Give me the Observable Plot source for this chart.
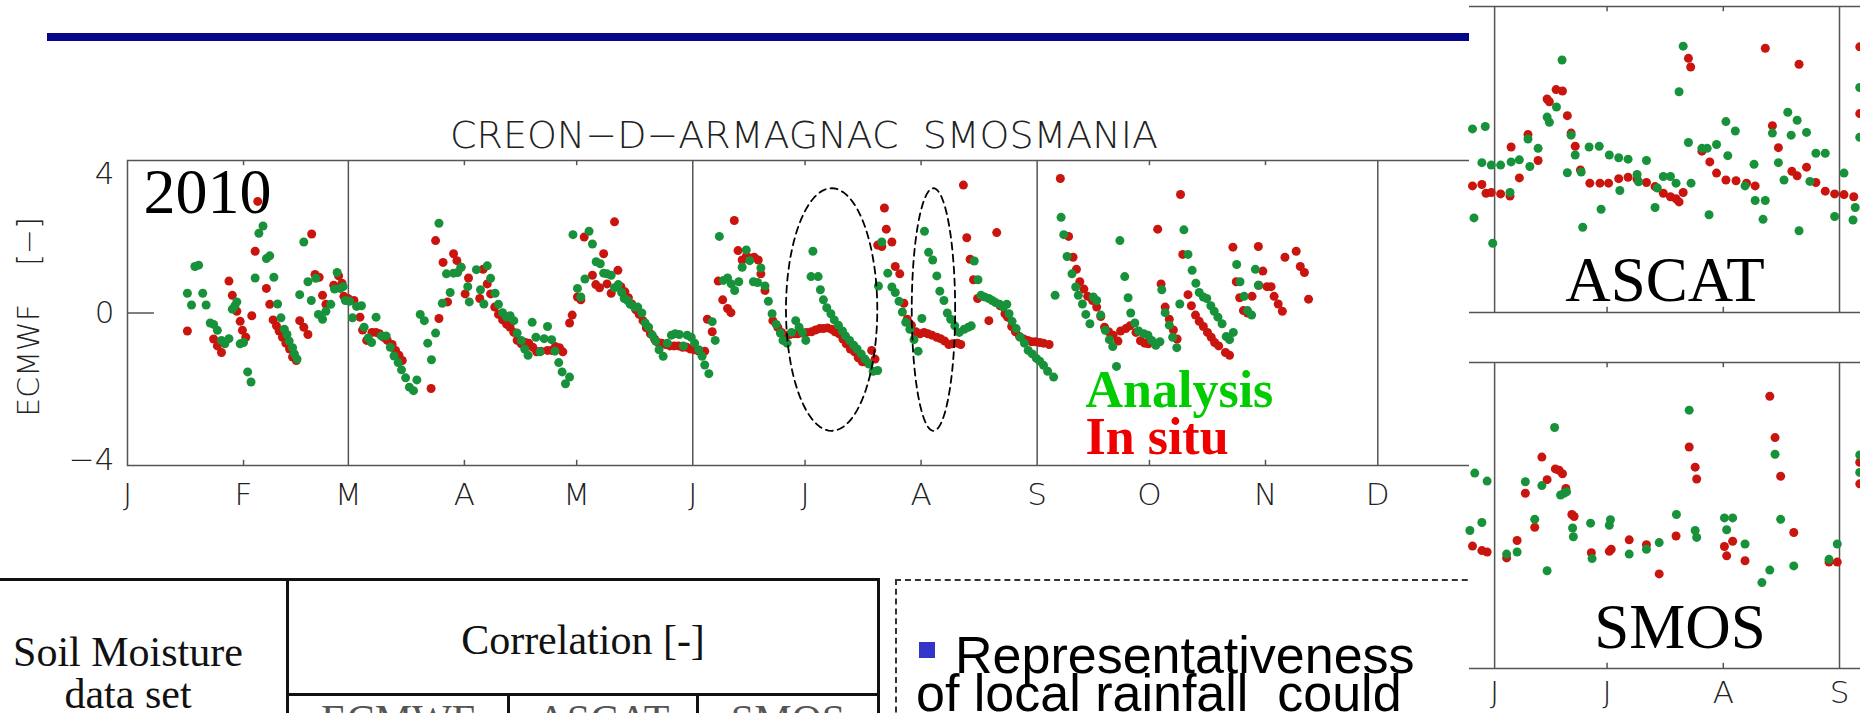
<!DOCTYPE html>
<html><head><meta charset="utf-8">
<script src="https://cdn.jsdelivr.net/npm/d3@7"></script>
<script src="https://cdn.jsdelivr.net/npm/@observablehq/plot@0.6"></script>
<style>
html,body{margin:0;padding:0;background:#fff;}
body{width:1860px;height:713px;overflow:hidden;position:relative;}
.abs{position:absolute;}
#bar{left:47px;top:33px;width:1422px;height:8px;background:#06068a;}
.ln{position:absolute;background:#111;}
.serif{font-family:"Liberation Serif","Times New Roman",serif;color:#111;white-space:nowrap;}
#note{left:895px;top:579px;width:700px;height:200px;border-top:2px dashed #333;border-left:2px dashed #333;}
#right{left:1469px;top:0;width:391px;height:713px;background:#fff;}
</style></head><body>
<div id="bar" class="abs"></div>
<div id="main" class="abs" style="left:0;top:0"></div>

<div id="table">
  <div class="ln" style="left:0;top:578px;width:880px;height:3px"></div>
  <div class="ln" style="left:286px;top:578px;width:3px;height:135px"></div>
  <div class="ln" style="left:877px;top:578px;width:3px;height:135px"></div>
  <div class="ln" style="left:286px;top:693px;width:594px;height:3px"></div>
  <div class="ln" style="left:507px;top:693px;width:3px;height:20px"></div>
  <div class="ln" style="left:696px;top:693px;width:3px;height:20px"></div>
  <div class="abs serif" style="left:0;width:256px;top:631px;font-size:42px;line-height:42px;text-align:center">Soil Moisture<br>data set</div>
  <div class="abs serif" style="left:289px;width:588px;top:618px;font-size:42px;line-height:44px;text-align:center">Correlation [-]</div>
  <div class="abs serif" style="left:289px;width:218px;top:698px;font-size:42px;line-height:44px;text-align:center;color:#555">ECMWF</div>
  <div class="abs serif" style="left:510px;width:186px;top:698px;font-size:42px;line-height:44px;text-align:center;color:#555">ASCAT</div>
  <div class="abs serif" style="left:699px;width:178px;top:698px;font-size:42px;line-height:44px;text-align:center;color:#555">SMOS</div>
</div>

<div id="note" class="abs">
  <div class="abs" style="left:22px;top:61px;width:16px;height:16px;background:#3434c8"></div>
  <div class="abs" style="left:58px;top:48px;font-family:'Liberation Sans',Arial,sans-serif;font-size:52px;line-height:52px;color:#000;white-space:nowrap">Representativeness</div>
  <div class="abs" style="left:19px;top:86px;font-family:'Liberation Sans',Arial,sans-serif;font-size:52px;line-height:52px;color:#000;white-space:pre">of local rainfall  could</div>
</div>

<div id="right" class="abs"><div id="ascat" class="abs" style="left:0;top:0"></div><div id="smos" class="abs" style="left:0;top:340px"></div></div>

<script>
// ---------- data (day of year 2010, standardized value) ----------
const analysis = [
[16.0,0.57],[17.1,0.23],[18.0,1.34],[19.0,1.38],[20.1,0.57],[21.0,0.23],[22.1,-0.29],[23.0,-0.33],[24.0,-0.50],[25.1,-0.79],[26.0,-0.89],[27.1,-0.74],[28.0,0.11],[28.7,0.21],[29.2,0.32],[30.1,-0.89],[31.0,-0.85],[32.1,-1.70],[33.0,-1.99],[34.1,1.01],[35.1,2.30],[36.2,2.51],[37.1,1.57],[38.0,1.65],[39.1,1.03],[40.1,0.26],[41.0,-0.14],[41.9,-0.47],[42.6,-0.62],[43.2,-0.81],[44.1,-1.00],[44.6,-1.18],[45.3,-1.33],[46.0,0.53],[47.1,2.05],[48.2,0.90],[49.1,0.36],[50.3,1.00],[51.0,-0.04],[52.1,-0.18],[53.0,0.05],[54.3,0.25],[55.3,0.69],[56.0,1.17],[56.8,0.71],[57.6,0.76],[58.2,0.36],[59.3,0.34],[60.1,-0.14],[61.2,0.19],[62.5,0.21],[63.2,-0.41],[64.3,-0.72],[65.2,-0.85],[66.4,-0.12],[67.8,-0.66],[69.1,-0.66],[70.2,-0.99],[71.2,-1.24],[72.3,-1.43],[73.2,-1.64],[74.3,-1.87],[75.3,-2.14],[76.4,-2.24],[77.3,-1.93],[78.2,-0.04],[79.3,-0.22],[80.2,-0.87],[81.2,-1.35],[82.3,-0.58],[83.2,2.59],[84.1,0.28],[85.2,1.13],[86.2,0.59],[87.1,1.15],[88.2,1.17],[89.1,1.32],
[90.9,0.76],[91.3,0.32],[93.2,1.25],[94.3,0.67],[95.2,0.26],[96.1,1.36],[97.0,1.00],[98.2,0.57],[99.1,0.25],[100.2,0.01],[101.3,-0.12],[102.2,-0.08],[103.2,-0.22],[104.1,-0.58],[105.2,-0.79],[106.1,-1.04],[107.0,-1.22],[108.1,-0.27],[109.1,-0.70],[110.2,-1.12],[111.3,-0.74],[112.2,-0.39],[113.3,-0.77],[114.2,-1.10],[115.2,-1.43],[116.1,-1.70],[117.0,-2.04],[118.1,-1.85],[119.0,2.26],[120.2,0.71],[121.1,0.46],[122.2,0.98],[123.3,2.36],[124.2,1.99],[125.2,1.48],[126.3,1.42],[127.2,1.15],[128.1,1.13],[129.2,1.09],[130.1,0.73],[131.1,0.82],[132.0,0.59],[132.7,0.42],[133.6,0.36],[134.3,0.25],[135.4,0.17],[136.3,0.17],[137.4,0.00],[138.3,-0.29],[139.2,-0.41],[140.2,-0.64],[141.1,-0.81],[142.0,-1.06],[143.1,-1.25],[144.2,-0.87],[145.3,-0.64],[146.3,-0.60],[147.4,-0.62],[148.5,-0.95],[149.5,-0.64],[150.6,-0.70],[151.5,-0.87],[152.6,-1.06],[153.5,-1.25],[154.2,-1.50],[155.3,-1.75],[156.2,-0.25],[157.0,-0.79],[158.1,2.21],[159.2,0.94],[160.3,1.01],[161.3,0.84],[162.2,0.65],[163.3,0.90],[164.2,1.32],[165.3,1.82],[166.2,1.51],[167.2,0.90],[168.3,0.88],[169.2,1.30],[170.3,0.78],[171.2,0.34],[172.2,-0.02],[173.3,-0.33],[174.4,-0.58],[175.1,-0.79],[176.2,-0.87],[177.4,-0.56],[178.5,-0.22],[179.4,-0.41],[180.3,-0.56],[181.2,-0.79],
[182.6,1.05],[183.1,1.78],[184.5,1.05],[185.1,0.67],[185.9,0.38],[186.8,0.15],[187.9,-0.02],[188.8,-0.20],[189.9,-0.35],[191.0,-0.52],[191.8,-0.66],[192.9,-0.79],[194.0,-0.93],[194.9,-1.04],[196.0,-1.18],[197.0,-1.33],[198.1,-1.47],[199.2,-1.68],[200.4,-1.66],[200.6,0.78],[201.5,2.05],[203.1,1.15],[204.2,0.75],[205.1,0.59],[206.1,0.34],[207.0,0.03],[207.9,-0.27],[209.0,-0.47],[210.1,-0.77],[211.2,-1.10],[212.2,-0.16],[212.9,2.36],[214.0,1.75],[215.1,1.53],[216.2,1.07],[217.0,0.63],[218.1,0.36],[219.0,0.00],[219.9,-0.18],[221.0,-0.37],[222.2,-0.56],[223.5,-0.47],[224.6,-0.41],[225.4,-0.37],[226.2,1.50],[227.2,0.96],[228.0,0.51],[229.0,0.46],[230.1,0.42],[231.0,0.36],[231.9,0.30],[233.0,0.25],[234.0,0.17],[234.9,0.25],[235.5,-0.02],[236.3,-0.24],[237.4,-0.45],[238.5,-0.70],[239.6,-0.87],[240.6,-1.08],[241.7,-1.18],[242.8,-1.31],[243.7,-1.39],[244.7,-1.51],[245.8,-1.68],[247.4,-1.85],[247.8,0.51],[249.4,2.76],[250.1,2.26],[251.0,1.63],[252.3,1.13],[253.3,0.75],[254.0,0.51],[255.1,0.26],[256.0,-0.04],[257.1,-0.31],[258.0,0.46],[258.9,0.36],[260.0,-0.06],[261.2,-0.50],[262.3,-0.77],[263.2,-0.97],[264.2,-1.54],[265.1,2.09],[266.4,1.05],[267.3,0.44],[268.0,0.00],[269.1,-0.29],[270.1,-0.52],
[271.5,-0.60],[272.6,-0.64],[273.6,-0.79],[274.7,-0.93],[275.8,-0.83],[276.3,0.67],[277.2,0.01],[278.3,-0.35],[279.2,-0.70],[280.3,-1.00],[281.1,0.26],[282.2,2.40],[283.3,1.69],[284.4,1.23],[285.4,0.86],[286.3,0.59],[287.4,0.46],[288.3,0.42],[289.4,0.21],[290.3,0.05],[291.3,-0.12],[292.4,-0.31],[293.5,-0.68],[294.4,-0.77],[295.4,-0.56],[296.3,1.40],[297.2,0.90],[298.3,0.48],[299.2,0.07],[300.3,-0.06],[301.3,1.26],[302.1,0.80]
];
const insitu = [
[16.0,-0.52],[23.0,-0.75],[24.0,-0.95],[25.1,-1.14],[27.1,0.92],[28.0,0.51],[29.2,0.05],[30.1,-0.24],[30.7,-0.50],[31.6,-0.70],[33.2,-0.08],[34.1,1.78],[34.8,3.22],[37.1,0.71],[38.0,0.25],[38.9,-0.20],[39.8,-0.37],[40.5,-0.52],[41.4,-0.70],[42.3,-0.87],[43.3,-1.04],[44.1,-1.27],[45.1,-1.37],[46.0,-0.22],[47.1,-0.41],[48.2,-0.62],[49.2,2.28],[50.1,1.11],[51.2,1.03],[52.1,0.51],[53.0,0.25],[55.1,0.80],[56.4,1.07],[57.3,0.86],[57.8,0.48],[58.9,0.42],[60.5,0.36],[62.1,-0.12],[62.8,-0.49],[63.9,-0.79],[65.3,-0.56],[66.4,-0.56],[67.3,-0.60],[68.4,-0.70],[69.4,-0.79],[70.7,-0.91],[71.6,-1.08],[72.5,-1.22],[73.4,-1.37],[81.1,-2.18],[82.3,2.09],[83.2,-0.16],[84.3,1.46],[85.5,0.32],[87.1,1.71],[88.0,1.51],[89.1,1.32],
[90.2,0.55],[91.1,1.01],[94.1,0.42],[95.0,1.26],[96.1,0.84],[97.0,0.55],[98.1,0.17],[99.1,-0.04],[100.2,-0.20],[101.3,-0.33],[102.2,-0.41],[103.2,-0.56],[104.1,-0.79],[105.2,-0.89],[106.3,-0.85],[107.2,-0.87],[108.3,-0.99],[109.3,-1.12],[110.4,-1.10],[112.2,-1.08],[113.3,-1.08],[114.3,-0.97],[115.4,-1.00],[116.3,-1.12],[118.1,-0.29],[118.8,-0.06],[120.2,0.46],[121.1,0.38],[122.0,2.19],[124.2,1.09],[125.1,0.82],[126.1,0.73],[127.2,1.71],[128.1,0.84],[129.2,0.57],[130.1,2.63],[131.0,1.23],[131.8,0.76],[132.9,0.61],[133.8,0.44],[134.7,0.26],[135.8,0.09],[136.7,-0.04],[137.7,-0.22],[138.6,-0.43],[139.7,-0.60],[140.8,-0.75],[141.7,-0.85],[142.7,-0.87],[143.8,-0.91],[144.9,-0.95],[146.0,-0.95],[147.2,-0.95],[148.3,-0.99],[149.4,-0.99],[150.4,-1.04],[151.5,-1.06],[152.6,-1.10],[154.2,-1.10],[154.9,-0.18],[156.2,-0.54],[157.8,0.92],[159.0,0.38],[160.3,0.13],[161.2,0.01],[162.1,2.67],[163.1,1.80],[164.2,1.53],[165.3,1.63],[166.3,1.59],[167.4,1.61],[168.5,1.53],[169.2,1.13],[170.3,0.65],[172.4,-0.22],[173.7,-0.41],[174.7,-0.56],[175.8,-0.64],[176.9,-0.62],[178.0,-0.60],[179.0,-0.60],[180.1,-0.58],[181.4,-0.56],
[182.7,-0.54],[183.8,-0.49],[184.9,-0.45],[185.9,-0.45],[187.0,-0.43],[188.1,-0.47],[189.0,-0.54],[190.1,-0.60],[191.1,-0.75],[192.0,-0.89],[193.1,-1.04],[194.2,-1.12],[195.2,-1.29],[196.3,-1.41],[197.6,-1.43],[198.8,-1.08],[199.7,-1.33],[200.4,1.96],[201.5,1.92],[202.2,3.03],[202.7,2.42],[204.2,2.05],[205.1,1.34],[206.3,1.13],[207.4,0.28],[208.3,-0.18],[209.4,-0.35],[210.6,-0.54],[211.7,-0.60],[212.8,-0.56],[213.8,-0.60],[214.9,-0.64],[216.2,-0.70],[217.2,-0.74],[218.3,-0.81],[219.4,-0.91],[220.4,-0.89],[221.7,-0.87],[222.6,-0.91],[223.3,3.69],[224.2,2.17],[225.1,1.55],[226.0,0.96],[227.1,0.42],[230.1,-0.22],[232.2,2.32],[233.1,0.21],[234.4,-0.02],[235.1,-0.12],[236.2,-0.39],[237.2,-0.54],[238.3,-0.68],[239.4,-0.75],[240.5,-0.79],[241.5,-0.83],[242.6,-0.83],[243.7,-0.85],[244.7,-0.87],[246.2,-0.91],[249.2,3.88],[251.4,2.21],[252.6,1.61],[253.5,1.26],[254.4,0.90],[255.5,0.69],[256.5,0.48],[257.8,0.36],[258.9,0.17],[260.0,-0.10],[261.0,-0.41],[262.1,-0.54],[263.3,-0.64],[264.6,-0.81],[265.3,-0.52],[266.7,-0.45],[267.8,-0.37],[269.4,-0.56],
[270.6,-0.80],[271.7,-0.87],[272.7,-0.89],[275.2,2.42],[276.1,0.84],[277.2,0.17],[278.3,-0.18],[279.4,-0.49],[280.4,-0.75],[281.3,3.42],[281.9,1.69],[283.3,0.53],[284.2,0.21],[285.3,-0.06],[286.3,-0.24],[287.4,-0.39],[288.5,-0.56],[289.5,-0.70],[290.4,-0.85],[291.5,-0.95],[293.3,-1.14],[294.4,-1.22],[295.3,1.90],[296.2,0.90],[297.1,0.44],[298.1,0.07],[299.2,0.00],[300.4,0.48],[302.1,1.92],[302.2,0.80],[303.3,1.21],[304.4,0.76],[305.5,0.76],[306.3,0.48],[307.4,0.26],[308.5,0.05],[309.2,1.61],[312.2,1.78],[313.3,1.34],[314.4,1.17],[315.5,0.40]
];
const ascatAnalysis = [
[145.1,0.88],[145.5,-1.68],[147.6,-0.09],[148.5,0.95],[150.1,-0.16],[150.5,-2.41],[152.6,-0.16],[155.1,-0.95],[155.4,-0.07],[157.6,-0.01],[159.9,0.59],[160.4,-0.20],[162.6,0.32],[165.0,1.22],[165.6,1.07],[167.5,1.51],[169.0,2.86],[170.4,-0.38],[171.4,0.70],[172.5,0.13],[174.1,-0.36],[174.5,-1.95],[176.2,0.36],[178.9,0.38],[179.4,-1.43],[181.6,0.13],[184.1,0.05],[184.4,-0.89],[186.6,0.01],[189.0,-0.43],[189.4,-0.64],[191.5,-0.03],[193.8,-1.38],[194.4,-0.82],[196.0,-0.49],[197.9,-0.49],[199.4,-0.68],[200.2,1.95],[201.3,3.26],[202.7,0.49],[203.4,-0.68],[206.3,0.32],[207.7,0.32],[208.2,-1.59],[210.2,0.43],[212.7,1.09],[213.2,0.11],[215.2,0.82],[217.8,-0.76],[220.2,-0.14],[220.5,-1.18],[222.6,-1.72],[223.2,-1.18],[225.1,0.76],[226.7,-0.09],[228.2,-0.59],[229.2,1.36],[230.1,0.70],[231.7,1.13],[232.2,-2.05],[234.2,0.78],[235.1,-0.63],[236.7,0.18],[239.2,0.18],[241.7,-1.64],[244.2,-0.39],[246.6,-1.74],[247.2,-1.38],[248.4,2.07],[248.4,0.64]
];
const ascatInsitu = [
[145.1,-0.76],[147.6,-0.72],[148.7,-0.97],[150.1,-0.95],[152.6,-0.99],[155.1,-1.05],[155.4,0.36],[157.6,-0.53],[159.9,0.72],[162.6,-0.03],[165.0,1.74],[165.6,1.66],[167.4,2.01],[169.1,1.97],[170.4,1.26],[171.4,0.76],[172.5,0.38],[173.9,-0.30],[176.4,-0.68],[179.1,-0.68],[181.4,-0.68],[184.1,-0.55],[186.6,-0.51],[189.0,-0.57],[191.5,-0.66],[193.8,-0.78],[196.0,-0.97],[197.9,-1.07],[199.4,-1.13],[200.2,-1.22],[201.3,-0.95],[202.7,2.91],[203.3,2.66],[206.3,0.24],[208.4,-0.07],[210.2,-0.39],[212.7,-0.59],[215.4,-0.61],[218.2,-0.68],[220.5,-0.76],[223.2,3.20],[225.1,0.97],[226.7,0.34],[230.3,-0.34],[231.7,-0.47],[232.2,2.74],[234.2,-0.22],[236.7,-0.66],[239.2,-0.91],[241.7,-0.99],[244.2,-1.01],[246.8,-1.07],[248.4,3.24],[248.4,1.32]
];
const smosAnalysis = [
[144.4,-0.43],[145.7,1.22],[147.6,-0.20],[149.0,0.99],[154.2,-1.11],[157.0,-1.05],[159.2,0.97],[161.7,-0.11],[163.6,0.86],[165.0,-1.59],[167.0,2.53],[168.6,0.59],[169.5,0.64],[170.2,0.68],[171.8,-0.36],[172.0,-0.61],[176.6,-0.22],[177.0,-1.24],[181.6,-0.28],[181.9,-0.12],[186.9,-1.11],[191.5,-0.97],[194.9,-0.78],[199.5,0.03],[202.9,3.03],[204.5,-0.43],[204.9,-0.63],[212.3,-0.07],[212.9,-0.41],[214.5,-0.07],[217.8,-0.82],[222.3,-1.93],[224.4,-1.57],[225.8,1.76],[227.3,-0.11],[230.8,-1.45],[240.2,-1.26],[242.4,-0.82],[248.4,1.74],[248.4,1.24]
];
const smosInsitu = [
[145.1,-0.88],[147.6,-1.01],[149.0,-1.05],[154.2,-1.22],[157.0,-0.72],[159.2,0.64],[161.7,-0.34],[163.6,1.68],[165.0,1.03],[167.2,1.34],[168.2,1.30],[169.1,1.20],[170.0,0.78],[171.6,0.03],[172.2,-0.03],[176.8,-1.07],[181.6,-1.03],[182.1,-0.97],[186.9,-0.70],[191.5,-0.84],[194.9,-1.68],[199.4,-0.59],[202.9,1.97],[204.5,1.39],[204.9,1.05],[212.3,-0.89],[212.9,-1.16],[214.5,-0.74],[217.8,-1.30],[224.4,3.43],[225.8,2.24],[227.3,1.13],[230.8,-0.49],[240.2,-1.34],[242.4,-1.34],[248.4,1.53],[248.4,0.91]
];
// axis / annotation definitions
const monthStart = [0,31,59,90,120,151,181,212,243,273,304,334];
const monthLetter = ["J","F","M","A","M","J","J","A","S","O","N","D"];
const seasonStart = [59,151,243,334];
const minorMonth = [31,90,120,181,212,273,304];
const ellipseDay = [188.1, 215.3];
const ellipseVal = [0.1, 0.1];
const ellipseHalfDays = [12.2, 5.8];
const ellipseHalfVal = [3.5, 3.5];

const t0 = Date.UTC(2010,0,1);
const toDate = d => new Date(t0 + d*864e5);
const RED = "#c9150e", GREEN = "#18923a", AX = "#555";
const thin = {fontFamily:"DejaVu Sans", fontWeight:200, fill:"#222"};
const NB = "\u00a0";

const ellipses = [];
ellipseDay.forEach((c,i) => {
  for (let k = 0; k <= 96; k++) {
    const a = k/96*2*Math.PI;
    ellipses.push({id:i, d: c + ellipseHalfDays[i]*Math.cos(a), v: ellipseVal[i] + ellipseHalfVal[i]*Math.sin(a)});
  }
});

const main = Plot.plot({
  width: 1472, height: 530,
  marginLeft: 127, marginRight: 0, marginTop: 160, marginBottom: 65,
  style: {background:"transparent", overflow:"visible"},
  x: {type:"utc", domain:[toDate(0), toDate(359.3)], axis:null},
  y: {domain:[-4.4,4.4], axis:null},
  marks: [
    Plot.frame({stroke:AX, strokeWidth:1.5}),
    Plot.ruleX(seasonStart, {x: toDate, stroke:AX, strokeWidth:1.5}),
    Plot.ruleX(minorMonth, {x: toDate, y1:4.4, y2:4.25, stroke:AX, strokeWidth:1.5}),
    Plot.ruleX(minorMonth, {x: toDate, y1:-4.4, y2:-4.25, stroke:AX, strokeWidth:1.5}),
    Plot.ruleY([0], {x1: toDate(0), x2: toDate(7.2), stroke:AX, strokeWidth:1.5}),
    Plot.dot(insitu, {x: d => toDate(d[0]), y: d => d[1], r:4.5, fill:RED}),
    Plot.dot(analysis, {x: d => toDate(d[0]), y: d => d[1], r:4.5, fill:GREEN}),
    Plot.line(ellipses, {x: d => toDate(d.d), y:"v", z:"id", stroke:"#000", strokeWidth:1.8, strokeDasharray:"7,5"}),
    Plot.text(monthStart, {x: toDate, text:(d,i)=>monthLetter[i], frameAnchor:"bottom", dy:39, lineAnchor:"bottom", fontSize:31, ...thin}),
    Plot.text([0], {y: d=>d, text:d=>"0", frameAnchor:"left", dx:-13, textAnchor:"end", lineAnchor:"middle", fontSize:31, ...thin}),
    Plot.text([4], {y: d=>d, text:d=>"4", frameAnchor:"left", dx:-13, textAnchor:"end", lineAnchor:"middle", fontSize:31, ...thin}),
    Plot.text([-4], {y: d=>d, text:d=>"−4", frameAnchor:"left", dx:-13, dy:8, textAnchor:"end", lineAnchor:"middle", fontSize:31, ...thin}),
    Plot.text(["ECMWF" + NB + NB + NB + NB + "[−]"], {frameAnchor:"left", dx:-98, dy:4, rotate:-90, textAnchor:"middle", lineAnchor:"middle", fontSize:30, ...thin}),
    Plot.text(["CREON−D−ARMAGNAC" + NB + NB + "SMOSMANIA"], {frameAnchor:"top", dx:4, dy:-13, textAnchor:"middle", lineAnchor:"bottom", fontSize:38, ...thin}),
    Plot.text(["2010"], {frameAnchor:"top-left", dx:16, dy:52, textAnchor:"start", lineAnchor:"bottom", fontSize:64, fontFamily:"Liberation Serif", fill:"#000"}),
    Plot.text(["Analysis"], {frameAnchor:"top-left", dx:958, dy:246, textAnchor:"start", lineAnchor:"bottom", fontSize:52, fontWeight:"bold", fontFamily:"Liberation Serif", fill:"#00cc00"}),
    Plot.text(["In situ"], {frameAnchor:"top-left", dx:958, dy:293, textAnchor:"start", lineAnchor:"bottom", fontSize:52, fontWeight:"bold", fontFamily:"Liberation Serif", fill:"#ee0000"})
  ]
});
document.getElementById("main").appendChild(main);

function panel(an, ins, label, opts) {
  const {height, top, labelDx, labelDy, months} = opts;
  const marks = [
    Plot.ruleY([-4.4, 4.4], {stroke:AX, strokeWidth:1.5}),
    Plot.ruleX([151, 243], {x: toDate, stroke:AX, strokeWidth:1.5}),
    Plot.ruleX([181, 212], {x: toDate, y1:4.4, y2:4.25, stroke:AX, strokeWidth:1.5}),
    Plot.ruleX([181, 212], {x: toDate, y1:-4.4, y2:-4.25, stroke:AX, strokeWidth:1.5}),
    Plot.dot(ins, {x: d => toDate(d[0]), y: d => d[1], r:4.5, fill:RED}),
    Plot.dot(an, {x: d => toDate(d[0]), y: d => d[1], r:4.5, fill:GREEN}),
    Plot.text([label], {frameAnchor:"bottom", dx:labelDx, dy:labelDy, lineAnchor:"bottom", fontSize:63, fontFamily:"Liberation Serif", fill:"#000"})
  ];
  if (months) marks.push(Plot.text([151,181,212,243], {x: toDate, text:(d,i)=>["J","J","A","S"][i], frameAnchor:"bottom", dy:34, lineAnchor:"bottom", fontSize:31, ...thin}));
  return Plot.plot({
    width: 391, height, marginLeft:0, marginRight:0, marginTop: top, marginBottom: height - top - 306,
    style: {background:"transparent", overflow:"visible"},
    x: {type:"utc", domain:[toDate(144.3), toDate(248.6)], axis:null},
    y: {domain:[-4.4,4.4], axis:null},
    marks
  });
}
document.getElementById("ascat").appendChild(panel(ascatAnalysis, ascatInsitu, "ASCAT", {height:330, top:6, labelDx:0, labelDy:-12, months:false}));
document.getElementById("smos").appendChild(panel(smosAnalysis, smosInsitu, "SMOS", {height:373, top:22, labelDx:15, labelDy:-21, months:true}));
</script>
</body></html>
